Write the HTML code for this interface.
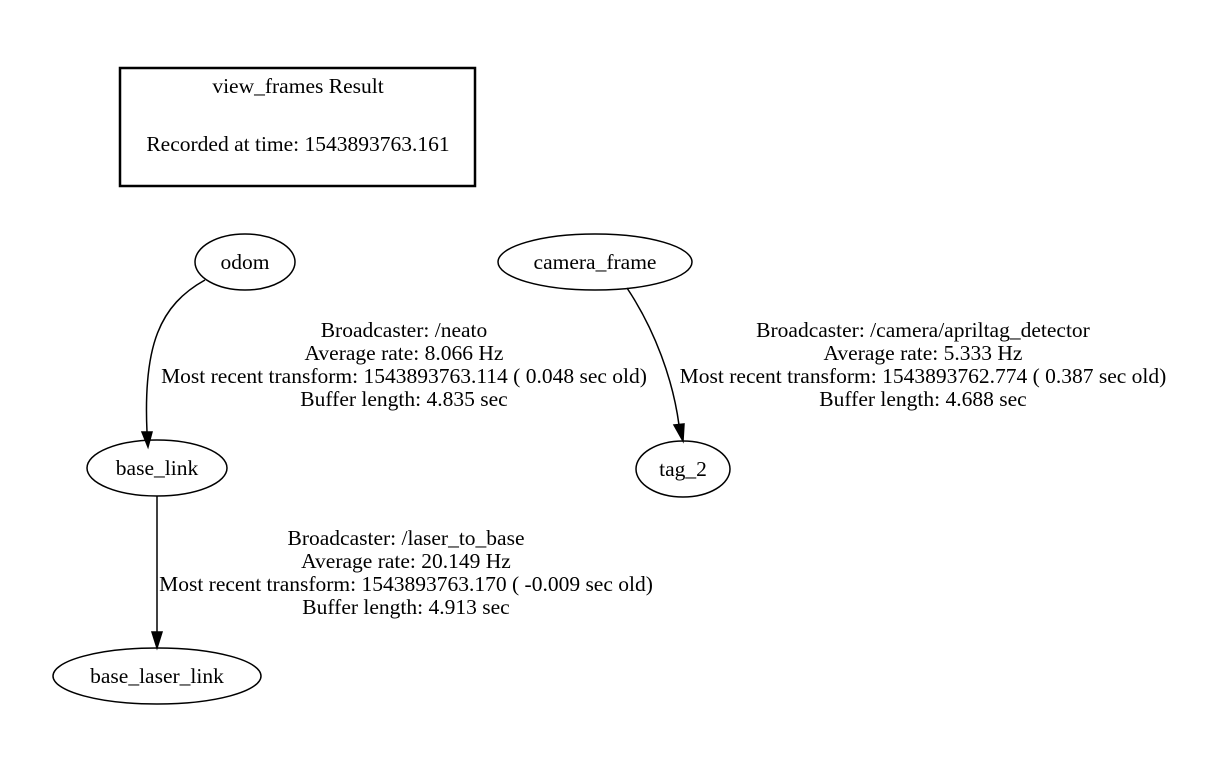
<!DOCTYPE html>
<html><head><meta charset="utf-8"><style>
html,body{margin:0;padding:0;background:#fff;}
svg{display:block;}
text{font-family:"Liberation Serif",serif;font-size:21.5px;fill:#000;}
</style></head><body>
<svg width="1223" height="760" viewBox="0 0 1223 760" xmlns="http://www.w3.org/2000/svg">
<rect x="120" y="68" width="355" height="118" fill="none" stroke="#000" stroke-width="2.5"/>
<text x="298" y="93" text-anchor="middle">view_frames Result</text>
<text x="298" y="151" text-anchor="middle">Recorded at time: 1543893763.161</text>

<g fill="none" stroke="#000" stroke-width="1.5">
<ellipse cx="245" cy="262" rx="50" ry="28"/>
<ellipse cx="157" cy="468" rx="70" ry="28"/>
<ellipse cx="157" cy="676" rx="104" ry="28"/>
<ellipse cx="595" cy="262" rx="97" ry="28"/>
<ellipse cx="683" cy="469" rx="47" ry="28"/>
<path d="M205,280 C160,305 143,345 147,432"/>
<path d="M157,496 L157,632"/>
<path d="M627,288 C655,330 673,380 679,425"/>
</g>
<g fill="#000" stroke="#000" stroke-width="1.5">
<polygon points="142,432 152,432 148,447"/>
<polygon points="152,632 162,632 157,648"/>
<polygon points="674,425 684,424 683,441"/>
</g>

<text x="245" y="269" text-anchor="middle">odom</text>
<text x="157" y="475" text-anchor="middle">base_link</text>
<text x="157" y="683" text-anchor="middle">base_laser_link</text>
<text x="595" y="269" text-anchor="middle">camera_frame</text>
<text x="683" y="476" text-anchor="middle">tag_2</text>

<g text-anchor="middle">
<text x="404" y="337">Broadcaster: /neato</text>
<text x="404" y="360">Average rate: 8.066 Hz</text>
<text x="404" y="383">Most recent transform: 1543893763.114 ( 0.048 sec old)</text>
<text x="404" y="406">Buffer length: 4.835 sec</text>

<text x="923" y="337">Broadcaster: /camera/apriltag_detector</text>
<text x="923" y="360">Average rate: 5.333 Hz</text>
<text x="923" y="383">Most recent transform: 1543893762.774 ( 0.387 sec old)</text>
<text x="923" y="406">Buffer length: 4.688 sec</text>

<text x="406" y="545">Broadcaster: /laser_to_base</text>
<text x="406" y="568">Average rate: 20.149 Hz</text>
<text x="406" y="591">Most recent transform: 1543893763.170 ( -0.009 sec old)</text>
<text x="406" y="614">Buffer length: 4.913 sec</text>
</g>
</svg>
</body></html>
